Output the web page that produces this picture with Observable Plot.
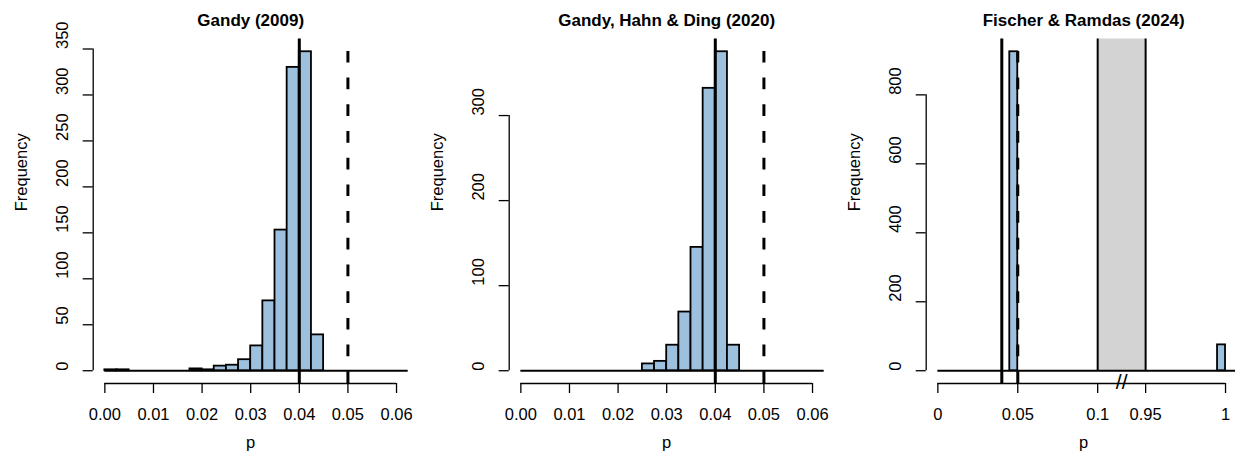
<!DOCTYPE html>
<html><head><meta charset="utf-8">
<script src="https://cdn.jsdelivr.net/npm/d3@7"></script>
<script src="https://cdn.jsdelivr.net/npm/@observablehq/plot@0.6"></script>
<style>
html,body{margin:0;padding:0;background:#fff;overflow:hidden}
#wrap{position:relative;width:1235px;height:467px;overflow:hidden;background:#fff}
#wrap svg{position:absolute;top:0;background:transparent}
</style></head><body><div id="wrap"></div>
<script>
// ---- data ----
const titles = ["Gandy (2009)", "Gandy, Hahn & Ding (2020)", "Fischer & Ramdas (2024)"];
const binWidth = 0.0025;
const binStart = 0;
const gandyCounts = [1,1,0,0,0,0,0,2,1,5,6,12,27,76,153,330,347,39,0,0,0,0,0,0,0];
const ghdCounts   = [0,0,0,0,0,0,0,0,0,0,8,11,30,69,145,332,375,30,0,0,0,0,0,0,0];
const frBinWidth = 0.005;
const frLower  = [0.045, 0.995];
const frCounts = [925, 75];
const frBaseline = [0, 1.01];
const pTicks = [0, 0.01, 0.02, 0.03, 0.04, 0.05, 0.06];
const pTickLabels = ["0.00", "0.01", "0.02", "0.03", "0.04", "0.05", "0.06"];
const frTicks = [0, 0.05, 0.1, 0.95, 1];
const frTickLabels = ["0", "0.05", "0.1", "0.95", "1"];
const gandyYTicks = [0, 50, 100, 150, 200, 250, 300, 350];
const ghdYTicks = [0, 100, 200, 300];
const frYTicks = [0, 200, 400, 600, 800];
const refSolid = 0.04;
const refDashed = 0.05;
const greyBand = [0.1, 0.95];
const xlimP = [0, 0.06];

// broken axis mapping for the third panel
function brk(p) {
  if (p <= 0.1) return p;
  if (p < 0.95) return 0.1 + (p - 0.1) * (0.03 / 0.85);
  return 0.13 + (p - 0.95);
}
const identity = p => p;

const W = 416.3, H = 467;
const M = {top: 38.5, bottom: 84, left: 92.7, right: 8.6};
const FONT = "Liberation Sans, Arial, Helvetica, sans-serif";
const BAR = "#9ec0df";

function pad(lo, hi) { const s = (hi - lo) * 0.04; return [lo - s, hi + s]; }

function panel({left, title, bars, tf, xlim, xt, xtl, yt, ymax, base, band}) {
  const xdom = pad(tf(xlim[0]), tf(xlim[1]));
  const ydom = pad(0, ymax);
  const marks = [];
  if (band) {
    marks.push(Plot.rectY([band], {x1: d => tf(d[0]), x2: d => tf(d[1]), y1: 0, y2: ydom[1], fill: "#d3d3d3"}));
    marks.push(Plot.ruleX(band, {x: d => tf(d), y1: 0, y2: ydom[1], stroke: "black", strokeWidth: 2}));
  }
  marks.push(Plot.ruleY([0], {x1: tf(base[0]), x2: tf(base[1]), stroke: "black", strokeWidth: 1.8, clip: true}));
  marks.push(Plot.rectY(bars, {x1: d => tf(d.x1), x2: d => tf(d.x2), y1: 0, y2: "n",
    fill: BAR, stroke: "black", strokeWidth: 1.8, clip: true}));
  marks.push(Plot.ruleX([refSolid], {x: d => tf(d), y1: ydom[0], y2: ydom[1], stroke: "black", strokeWidth: 3}));
  marks.push(Plot.ruleX([refDashed], {x: d => tf(d), y1: ydom[0], y2: ydom[1], stroke: "black", strokeWidth: 3,
    strokeDasharray: "11.7,15", strokeLinecap: "butt"}));
  // axes
  const xtT = xt.map(tf);
  marks.push(Plot.axisX({ticks: xtT, tickSize: 10, tickFormat: () => "", label: null, strokeWidth: 1.3}));
  marks.push(Plot.axisY({ticks: yt, tickSize: 10, tickFormat: () => "", label: null, strokeWidth: 1.3}));
  marks.push(Plot.ruleY([ydom[0]], {x1: xtT[0], x2: xtT[xtT.length - 1], stroke: "black", strokeWidth: 1.3}));
  marks.push(Plot.ruleX([xdom[0]], {y1: yt[0], y2: yt[yt.length - 1], stroke: "black", strokeWidth: 1.3}));
  marks.push(Plot.text(xtT, {x: d => d, text: (d, i) => xtl[i], frameAnchor: "bottom", dy: 36.5,
    lineAnchor: "bottom", fontSize: 16.5}));
  marks.push(Plot.text(yt, {y: d => d, text: d => String(d), frameAnchor: "left", dx: -30, rotate: -90,
    lineAnchor: "middle", fontSize: 16.5}));
  marks.push(Plot.text(["Frequency"], {frameAnchor: "left", dx: -71, rotate: -90, lineAnchor: "middle", fontSize: 16.5}));
  marks.push(Plot.text(["p"], {frameAnchor: "bottom", dy: 65, lineAnchor: "bottom", fontSize: 16.5}));
  marks.push(Plot.text([title], {frameAnchor: "top", dy: -13, lineAnchor: "bottom", fontSize: 17, fontWeight: "bold"}));
  if (band) {
    marks.push(Plot.text(["//"], {x: tf((band[0] + band[1]) / 2), y: ydom[0], text: d => d, lineAnchor: "middle",
      fontSize: 21, dy: -1, fill: "black"}));
  }
  const svg = Plot.plot({
    width: W, height: H,
    marginTop: M.top, marginBottom: M.bottom, marginLeft: M.left, marginRight: M.right,
    x: {domain: xdom},
    y: {domain: ydom},
    style: {fontFamily: FONT, fontSize: "16.5px", background: "transparent", color: "black"},
    marks
  });
  svg.style.left = left + "px";
  document.getElementById("wrap").appendChild(svg);
}

const toBars = counts => counts.map((n, i) => ({x1: binStart + i * binWidth, x2: binStart + (i + 1) * binWidth, n}))
  .filter(d => d.n > 0);
const baseP = [binStart, binStart + gandyCounts.length * binWidth];

panel({left: 0, title: titles[0], bars: toBars(gandyCounts), tf: identity, xlim: xlimP, xt: pTicks, xtl: pTickLabels,
  yt: gandyYTicks, ymax: d3.max(gandyCounts), base: baseP});
panel({left: W, title: titles[1], bars: toBars(ghdCounts), tf: identity, xlim: xlimP, xt: pTicks, xtl: pTickLabels,
  yt: ghdYTicks, ymax: d3.max(ghdCounts), base: baseP});
panel({left: 2 * W, title: titles[2], bars: frLower.map((x, i) => ({x1: x, x2: x + frBinWidth, n: frCounts[i]})),
  tf: brk, xlim: [0, 1.0025], xt: frTicks, xtl: frTickLabels, yt: frYTicks, ymax: d3.max(frCounts),
  base: frBaseline, band: greyBand});
</script></body></html>
